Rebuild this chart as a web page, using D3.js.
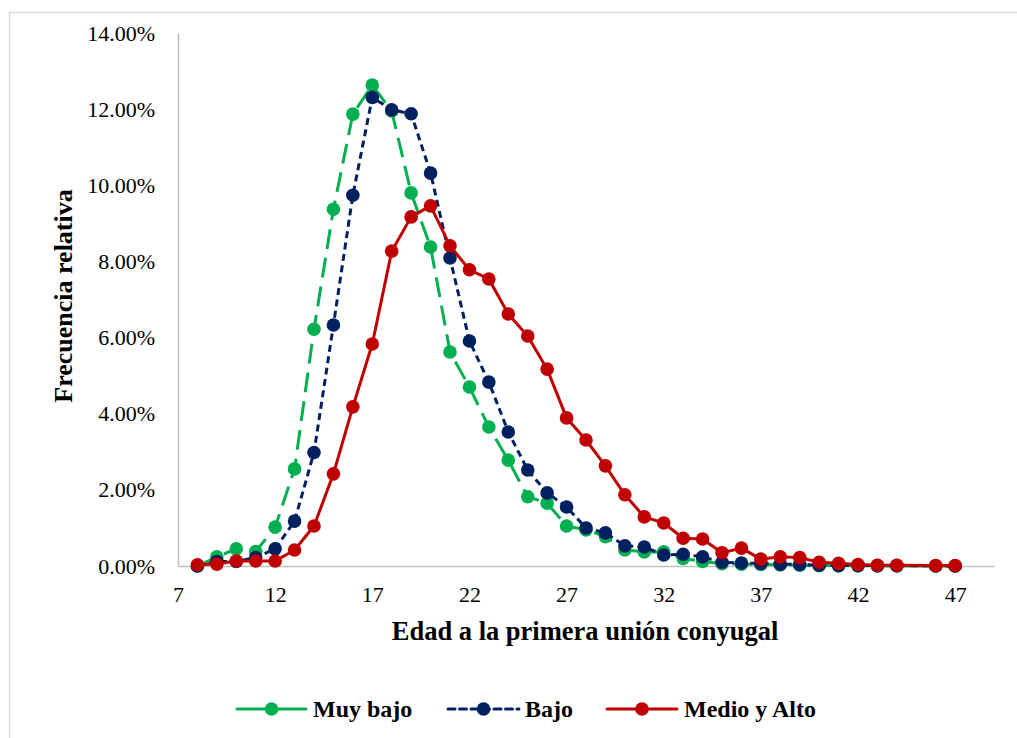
<!DOCTYPE html>
<html>
<head>
<meta charset="utf-8">
<script src="https://cdn.jsdelivr.net/npm/d3@7"></script>
<style>
  html, body { margin: 0; padding: 0; background: #fff; }
  svg { display: block; }
</style>
</head>
<body>
<svg id="chart" width="1017" height="738"></svg>
<script>
// Age at first union (years)
const ages = [8, 9, 10, 11, 12, 13, 14, 15, 16, 17, 18, 19, 20, 21, 22, 23, 24, 25, 26, 27,
  28, 29, 30, 31, 32, 33, 34, 35, 36, 37, 38, 39, 40, 41, 42, 43, 44, 46, 47];

// Relative frequency (%) by socioeconomic level
const muyBajo = [0.00, 0.24, 0.45, 0.38, 1.02, 2.55, 6.22, 9.37, 11.87, 12.63, 11.95, 9.80, 8.38, 5.62,
  4.70, 3.65, 2.78, 1.82, 1.65, 1.05, 0.95, 0.77, 0.42, 0.37, 0.37, 0.20, 0.12, 0.06, 0.05, 0.04,
  0.03, 0.02, 0.01, 0.01, 0.01, 0.00, 0.00, 0.00, 0.00];
const bajo = [0.00, 0.12, 0.12, 0.22, 0.45, 1.18, 2.98, 6.33, 9.74, 12.31, 11.98, 11.88, 10.32, 8.09,
  5.91, 4.83, 3.52, 2.52, 1.92, 1.55, 1.00, 0.87, 0.53, 0.50, 0.29, 0.31, 0.24, 0.10, 0.08, 0.07,
  0.05, 0.04, 0.02, 0.01, 0.01, 0.01, 0.01, 0.00, 0.00];
const medioAlto = [0.03, 0.05, 0.13, 0.13, 0.13, 0.42, 1.05, 2.42, 4.18, 5.83, 8.27, 9.17, 9.46, 8.41,
  7.78, 7.54, 6.62, 6.04, 5.17, 3.89, 3.31, 2.63, 1.87, 1.29, 1.13, 0.73, 0.71, 0.35, 0.47, 0.18,
  0.24, 0.22, 0.10, 0.07, 0.04, 0.02, 0.02, 0.01, 0.01];

const xTicks = [7, 12, 17, 22, 27, 32, 37, 42, 47];
const yTicks = [0, 2, 4, 6, 8, 10, 12, 14];

const seriesNames = ["Muy bajo", "Bajo", "Medio y Alto"];
const seriesValues = [muyBajo, bajo, medioAlto];
const seriesColors = ["#00B050", "#002060", "#C00000"];
const seriesDash = ["20,9", "7,4.5", null];
const legendDash = ["26,0", "7,4.5", null];

const FONT = "'Liberation Serif', 'Times New Roman', serif";
const svg = d3.select("#chart");

// chart frame
svg.append("rect")
  .attr("x", 9.5).attr("y", 12.5)
  .attr("width", 1030).attr("height", 760)
  .attr("fill", "#fff").attr("stroke", "#d9d9d9").attr("stroke-width", 1.5);

const x = d3.scaleLinear().domain([7, 49]).range([178, 994]);
const y = d3.scaleLinear().domain([0, 14]).range([566, 33]);

// y axis
const yAxis = svg.append("g").attr("transform", "translate(178,0)")
  .call(d3.axisLeft(y).tickValues(yTicks).tickSize(0).tickPadding(23)
    .tickFormat(d => d.toFixed(2) + "%"));
yAxis.select(".domain").attr("stroke", "#bfbfbf").attr("stroke-width", 1.5);
yAxis.selectAll("text")
  .style("font-family", FONT).style("font-size", "22px").attr("fill", "#000");

// x axis
const xAxis = svg.append("g").attr("transform", "translate(0,566)")
  .call(d3.axisBottom(x).tickValues(xTicks).tickSize(0).tickPadding(20)
    .tickFormat(d3.format("d")));
xAxis.select(".domain").attr("stroke", "#bfbfbf").attr("stroke-width", 1.5);
xAxis.selectAll("text")
  .style("font-family", FONT).style("font-size", "22px").attr("fill", "#000");

// axis titles
svg.append("text")
  .attr("x", 585).attr("y", 640)
  .attr("text-anchor", "middle")
  .style("font-family", FONT).style("font-size", "26.5px").style("font-weight", "bold")
  .text("Edad a la primera unión conyugal");

svg.append("text")
  .attr("transform", "translate(72,296) rotate(-90)")
  .attr("text-anchor", "middle")
  .style("font-family", FONT).style("font-size", "26px").style("font-weight", "bold")
  .text("Frecuencia relativa");

// series
const line = d3.line().x(d => x(d[0])).y(d => y(d[1]));

seriesValues.forEach((vals, i) => {
  const pts = ages.map((a, j) => [a, vals[j]]);
  const g = svg.append("g");
  g.append("path")
    .datum(pts)
    .attr("d", line)
    .attr("fill", "none")
    .attr("stroke", seriesColors[i])
    .attr("stroke-width", 3)
    .attr("stroke-dasharray", seriesDash[i])
    .attr("stroke-linejoin", "round");
  g.selectAll("circle").data(pts).join("circle")
    .attr("cx", d => x(d[0])).attr("cy", d => y(d[1]))
    .attr("r", 6.8)
    .attr("fill", seriesColors[i]);
});

// legend
const legendItems = [
  { x0: 237, x1: 306, tx: 313 },
  { x0: 448, x1: 519, tx: 525 },
  { x0: 607, x1: 677, tx: 684 }
];
const legend = svg.append("g");
legendItems.forEach((it, i) => {
  const ly = 709;
  legend.append("line")
    .attr("x1", it.x0).attr("x2", it.x1).attr("y1", ly).attr("y2", ly)
    .attr("stroke", seriesColors[i]).attr("stroke-width", 3)
    .attr("stroke-linecap", "round")
    .attr("stroke-dasharray", legendDash[i]);
  legend.append("circle")
    .attr("cx", (it.x0 + it.x1) / 2).attr("cy", ly).attr("r", 6.8)
    .attr("fill", seriesColors[i]);
  legend.append("text")
    .attr("x", it.tx).attr("y", ly + 8)
    .style("font-family", FONT).style("font-size", "24px").style("font-weight", "bold")
    .attr("fill", "#000")
    .text(seriesNames[i]);
});
</script>
</body>
</html>
